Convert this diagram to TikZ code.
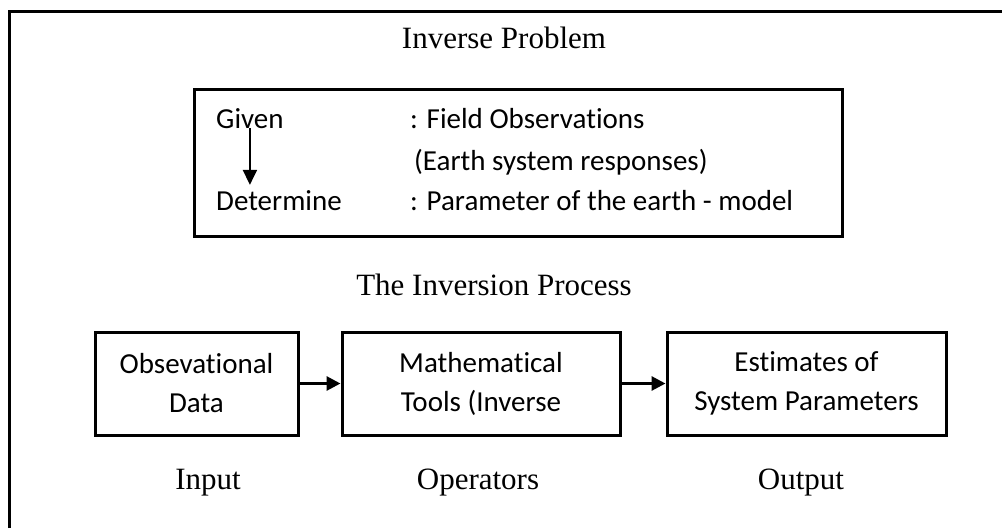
\documentclass[tikz,border=0pt]{standalone}
\usepackage{fontspec}
\setmainfont{Liberation Serif}
\newfontfamily\bodyfont[Ligatures=NoCommon]{Carlito}
\usetikzlibrary{arrows.meta}
\tikzset{
  serif/.style={font=\fontsize{31}{37}\selectfont, inner sep=0pt},
  body/.style={font=\bodyfont\fontsize{29}{39}\selectfont, inner sep=0pt},
  procbox/.style={draw, line width=3pt, minimum height=103pt, align=center,
    font=\bodyfont\fontsize{29}{39}\selectfont, inner sep=0pt},
  flow/.style={line width=3pt, -{Triangle[length=14pt,width=14pt]}},
  downarrow/.style={line width=2pt, -{Triangle[length=15pt,width=14pt]}},
}
\begin{document}
\begin{tikzpicture}[x=1pt,y=-1pt]
\useasboundingbox (0,0) rectangle (1002,528);
% outer frame (left and top)
\draw[line width=3pt] (9.5,528) -- (9.5,11) -- (1002,11);
% inverse problem
\node[serif, anchor=base] (title1) at (504,48) {Inverse Problem};
\node[draw, line width=3pt, minimum width=648pt, minimum height=147pt] (pbox) at (518,162.5) {};
\node[body, anchor=base west] (given) at (216,128) {Given};
\node[body, anchor=base west] (field) at (410,128) {: Field Observations};
\node[body, anchor=base west] (earth) at (414,170) {(Earth system responses)};
\node[body, anchor=base west] (det) at (216,210) {Determine};
\node[body, anchor=base west] (param) at (410,210) {: Parameter of the earth - model};
\draw[downarrow] (given.base) -- ([yshift=5pt]given.base |- det.north);
% inversion process
\node[serif, anchor=base] (title2) at (494,295) {The Inversion Process};
\node[procbox, minimum width=203pt] (obs) at (196.5,383.5) {Obsevational\\Data};
\node[procbox, minimum width=278pt] (math) at (481,383.5) {Mathematical\\Tools (Inverse};
\node[procbox, minimum width=279pt] (est) at (806.5,383.5) {Estimates of\\System Parameters};
\draw[flow] (obs.east) -- (math.west);
\draw[flow] (math.east) -- (est.west);
\node[serif, anchor=base] (input) at (208,489) {Input};
\node[serif, anchor=base] (oper) at (478,489) {Operators};
\node[serif, anchor=base] (output) at (801,489) {Output};
\end{tikzpicture}
\end{document}
